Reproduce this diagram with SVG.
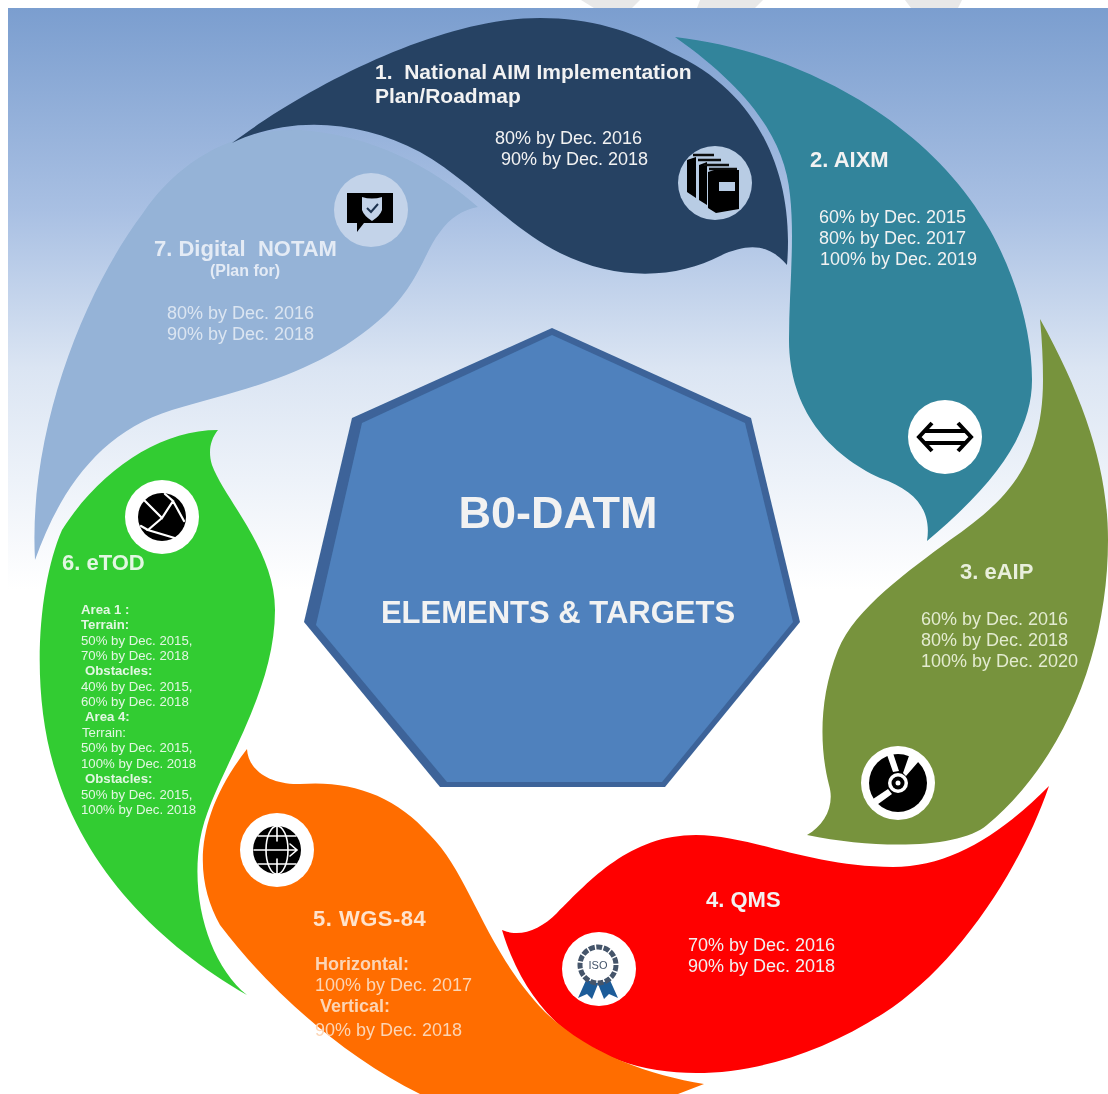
<svg xmlns="http://www.w3.org/2000/svg" width="1108" height="1094" viewBox="0 0 1108 1094">
<style>
text{font-family:"Liberation Sans",Arial,sans-serif;fill:#f2f2f2;white-space:pre}
.t{font-size:22px;font-weight:700}
.h{font-size:21px;font-weight:700}
.b{font-size:18px}
.s{font-size:13.2px}
.sb{font-size:13.2px;font-weight:700}
.ic{fill:#000}
.wl{fill:none;stroke:#fff;stroke-linecap:round}
</style>
<defs>
<linearGradient id="bg" x1="0" y1="8" x2="0" y2="590" gradientUnits="userSpaceOnUse">
<stop offset="0" stop-color="#7b9ecf"/><stop offset=".35" stop-color="#a9c0e3"/><stop offset=".62" stop-color="#dbe5f3"/><stop offset="1" stop-color="#ffffff"/>
</linearGradient>
<filter id="soft" x="0" y="0" width="100%" height="100%" filterUnits="userSpaceOnUse" primitiveUnits="userSpaceOnUse"><feGaussianBlur stdDeviation="0.5"/></filter>
</defs>
<rect width="1108" height="1094" fill="#fff"/>
<rect x="8" y="8" width="1100" height="1086" fill="url(#bg)"/>
<g fill="#e8e8e8">
<polygon points="581,0 640,0 632,8 594,8"/>
<polygon points="700,0 763,0 755,8 697,8"/>
<polygon points="905,0 962,0 958,8 911,8"/>
</g>
<g filter="url(#soft)">
<g id="node-7">
<path fill="#95b3d7" d="M478,207 C430,165 370,135 300,130 C230,128 175,165 143,213 C85,290 28,430 35,560 C60,490 100,432 172,410 C240,390 320,375 385,315 C420,282 425,250 440,232 C450,218 462,210 478,207 Z"/>
<circle cx="371" cy="210" r="37" fill="#c3d3e9"/>
<path class="ic" d="M347,193 H393 V223 H364 L357,232 V223 H347 Z"/>
<path fill="#c3d3e9" d="M362,197 Q372,200 382,197 V210 Q380,216 372,221 Q364,216 362,210 Z"/>
<path d="M367,208 L371,212 L378,204" fill="none" stroke="#1f3350" stroke-width="2"/>
<text class="t" x="154" y="256" style="fill:#e4ebf5">7. Digital  NOTAM</text>
<text x="245" y="276" text-anchor="middle" font-size="16" font-weight="700" style="fill:#e4ebf5">(Plan for)</text>
<text class="b" x="167" y="319" style="fill:#dbe5f1">80% by Dec. 2016</text>
<text class="b" x="167" y="340" style="fill:#dbe5f1">90% by Dec. 2018</text>
</g>

<g id="node-1">
<path fill="#264264" d="M232,143 C310,85 440,18 540,18 C590,18 630,30 672,53 C755,90 795,170 787,265 C770,245 750,242 720,256 C680,277 620,283 560,253 C510,228 470,180 420,152 C360,120 290,115 232,143 Z"/>
<circle cx="715" cy="183" r="37" fill="#b8cce4"/>
<path class="ic" d="M687,160 L696,157 V198 L687,192 Z M699,165 L707,162 V205 L699,200 Z M708,172 L714,170 H739 V209 L716,213 L708,208 Z"/>
<path d="M693,155 H714 M698,160 H721 M704,165 H729 M709,169 H737" stroke="#111" stroke-width="2.5" fill="none"/>
<rect x="719" y="182" width="16" height="9" fill="#b8cce4"/>
<text class="h" x="375" y="79">1.  National AIM Implementation</text>
<text class="h" x="375" y="103">Plan/Roadmap</text>
<text class="b" x="495" y="144">80% by Dec. 2016</text>
<text class="b" x="501" y="165">90% by Dec. 2018</text>
</g>

<g id="node-2">
<path fill="#31849b" d="M675,37 C790,50 925,115 990,230 C1015,275 1032,330 1032,380 C1032,430 1000,480 927,541 C932,510 915,490 880,478 C830,455 789,410 789,340 C789,290 795,240 790,195 C785,140 750,90 675,37 Z"/>
<circle cx="945" cy="437" r="37" fill="#fff"/>
<path d="M932,423 L919,437 L932,451 M958,423 L971,437 L958,451" fill="none" stroke="#000" stroke-width="4"/>
<path d="M925,431 H965 M925,443 H965" stroke="#000" stroke-width="4"/>
<text class="t" x="810" y="167">2. AIXM</text>
<text class="b" x="819" y="223">60% by Dec. 2015</text>
<text class="b" x="819" y="244">80% by Dec. 2017</text>
<text class="b" x="820" y="265">100% by Dec. 2019</text>
</g>

<g id="node-3">
<path fill="#77933c" d="M1040,319 C1085,400 1108,470 1108,540 C1108,650 1065,760 987,825 C960,848 880,850 807,835 C825,825 835,805 829,785 C820,750 818,700 838,650 C855,608 910,570 950,540 C1000,505 1043,470 1043,380 C1043,360 1042,340 1040,319 Z"/>
<circle cx="898" cy="783" r="37" fill="#fff"/>
<circle class="ic" cx="898" cy="783" r="29"/>
<path fill="#fff" d="M893,772 L886,752 L892,750 L899,771 Z M903,773 L910,753 L919,761 L906,776 Z M888,789 L870,801 L874,807 L892,794 Z"/>
<circle cx="898" cy="783" r="10" fill="#fff"/><circle class="ic" cx="898" cy="783" r="6.5"/><circle cx="898" cy="783" r="2.5" fill="#fff"/>
<text class="t" x="960" y="579" style="fill:#e9efdc">3. eAIP</text>
<text class="b" x="921" y="625" style="fill:#e3ebd0">60% by Dec. 2016</text>
<text class="b" x="921" y="646" style="fill:#e3ebd0">80% by Dec. 2018</text>
<text class="b" x="921" y="667" style="fill:#e3ebd0">100% by Dec. 2020</text>
</g>

<g id="node-4">
<path fill="#ff0000" d="M502,930 C520,938 540,930 557,913 C590,880 630,835 696,835 C750,835 810,867 893,867 C950,867 1000,835 1049,786 C1020,870 960,960 893,1007 C830,1050 760,1073 696,1073 C620,1073 535,1040 502,930 Z"/>
<circle cx="599" cy="969" r="37" fill="#fff"/>
<path fill="#1f5c99" d="M587,978 L578,998 L587,994 L592,999 L598,984 L604,999 L609,994 L618,998 L609,978 Z"/>
<circle cx="598" cy="965" r="18" fill="#fff" stroke="#44546a" stroke-width="5" stroke-dasharray="6 1.5"/>
<text x="598" y="969" text-anchor="middle" font-size="11" style="fill:#44546a">ISO</text>
<text class="t" x="706" y="907">4. QMS</text>
<text class="b" x="688" y="951">70% by Dec. 2016</text>
<text class="b" x="688" y="972">90% by Dec. 2018</text>
</g>

<g id="node-5">
<path fill="#ff6d00" d="M247,749 C248,770 270,785 300,784 C350,780 395,795 430,835 C470,875 485,950 545,1012 C590,1055 650,1075 704,1084 L678,1094 L420,1094 C340,1055 265,985 220,925 C195,880 192,820 247,749 Z"/>
<circle cx="277" cy="850" r="37" fill="#fff"/>
<circle class="ic" cx="277" cy="850" r="24"/>
<g class="wl" stroke-width="1.6"><ellipse cx="277" cy="850" rx="11" ry="24"/><path d="M277,826 V841 M277,859 V874 M258,836 H296 M258,864 H296"/><path d="M254,850 H296 M290,844 L297,850 L290,856"/></g>
<text class="t" x="313" y="926" letter-spacing=".5" style="fill:#ffe3cc">5. WGS-84</text>
<text class="b" x="315" y="970" font-weight="700" style="fill:#fcd5b5">Horizontal:</text>
<text class="b" x="315" y="991" style="fill:#fcd5b5">100% by Dec. 2017</text>
<text class="b" x="320" y="1012" font-weight="700" style="fill:#fcd5b5">Vertical:</text>
<text class="b" x="315" y="1036" style="fill:#fcd5b5">90% by Dec. 2018</text>
</g>

<g id="node-6">
<path fill="#33cc33" d="M218,430 C160,430 100,470 62,530 C38,585 30,690 55,770 C85,870 160,945 247,995 C210,965 190,900 200,840 C210,780 275,700 275,610 C275,550 225,500 212,465 C208,452 210,440 218,430 Z"/>
<circle cx="162" cy="517" r="37" fill="#fff"/>
<circle class="ic" cx="162" cy="517" r="24"/>
<g class="wl" stroke-width="2.2"><path d="M143,499 L162,518 L173,501 L165,494 M173,501 L184,521 M162,518 L148,530 L178,539 M148,530 L141,526"/></g>
<text class="t" x="62" y="570" style="fill:#e2f7e2">6. eTOD</text>
<g>
<text class="sb" x="81" y="614" style="fill:#e2f7e2">Area 1 :</text>
<text class="sb" x="81" y="629" style="fill:#e2f7e2">Terrain:</text>
<text class="s" x="81" y="645" style="fill:#e2f7e2">50% by Dec. 2015,</text>
<text class="s" x="81" y="660" style="fill:#e2f7e2">70% by Dec. 2018</text>
<text class="sb" x="85" y="675" style="fill:#e2f7e2">Obstacles:</text>
<text class="s" x="81" y="691" style="fill:#e2f7e2">40% by Dec. 2015,</text>
<text class="s" x="81" y="706" style="fill:#e2f7e2">60% by Dec. 2018</text>
<text class="sb" x="85" y="721" style="fill:#e2f7e2">Area 4:</text>
<text class="s" x="82" y="737" style="fill:#e2f7e2">Terrain:</text>
<text class="s" x="81" y="752" style="fill:#e2f7e2">50% by Dec. 2015,</text>
<text class="s" x="81" y="768" style="fill:#e2f7e2">100% by Dec. 2018</text>
<text class="sb" x="85" y="783" style="fill:#e2f7e2">Obstacles:</text>
<text class="s" x="81" y="799" style="fill:#e2f7e2">50% by Dec. 2015,</text>
<text class="s" x="81" y="814" style="fill:#e2f7e2">100% by Dec. 2018</text>
</g>
</g>

<g id="center">
<polygon fill="#3c6499" points="552,328 751,418 800,622 665,787 440,787 304,622 352,418"/>
<polygon fill="#4f81bd" points="552,335 745,423 793,622 662,782 447,782 316,625 362,423"/>
<text x="558" y="528" text-anchor="middle" font-size="45" font-weight="700">B0-DATM</text>
<text x="558" y="623" text-anchor="middle" font-size="31" font-weight="700">ELEMENTS &amp; TARGETS</text>
</g>
</g>
</svg>
